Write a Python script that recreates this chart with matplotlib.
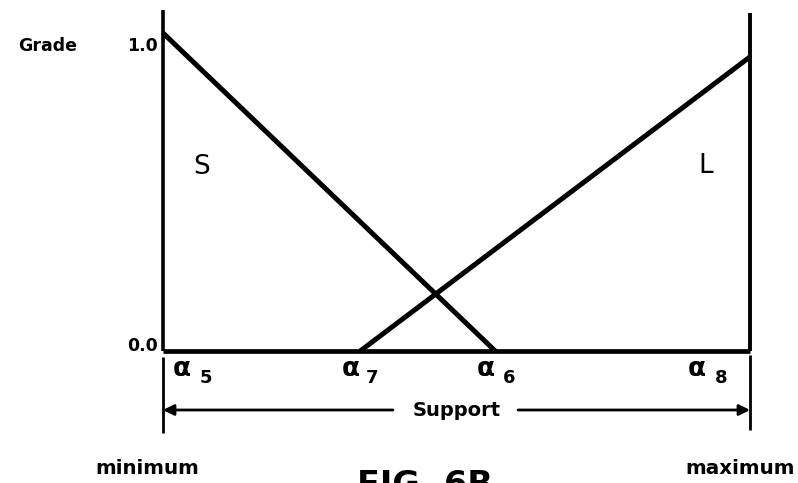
import matplotlib.pyplot as plt

# positions on the support (0 = minimum, 1 = maximum)
alpha5 = 0.0
alpha7 = 0.336
alpha6 = 0.566
alpha8 = 1.0

# membership functions S and L
S_x = [alpha5, alpha6]
S_y = [1.0, 0.0]
L_x = [alpha7, alpha8]
L_y = [0.0, 0.925]

grade_ticks = [0.0, 1.0]
grade_labels = ['0.0', '1.0']
alpha_pos = [alpha5, alpha7, alpha6, alpha8]
alpha_subs = ['5', '7', '6', '8']

W, H = 798, 483
fig = plt.figure(figsize=(W / 100, H / 100), dpi=100)
ax = fig.add_axes([163 / W, (H - 351) / H, 587 / W, 318 / H])
ax.set_xlim(0, 1)
ax.set_ylim(0, 1)
ax.axis('off')


def px(x):
    return (x - 163) / 587


def py(y):
    return (351 - y) / 318


k = dict(color='black', clip_on=False, solid_capstyle='butt')

# axes frame
ax.plot([0, 0], [py(10), 0], lw=2.6, **k)
ax.plot([1, 1], [py(13), 0], lw=2.8, **k)
ax.plot([0, 1], [0, 0], lw=3.4, **k)

# membership lines
ax.plot(S_x, S_y, lw=3.6, **k)
ax.plot(L_x, L_y, lw=3.6, **k)

# extension lines for support dimension
ax.plot([0, 0], [py(357), py(433)], lw=2.0, **k)
ax.plot([1, 1], [py(355), py(430)], lw=2.0, **k)

ya = py(410)
ax.annotate('', xy=(0, ya), xytext=(px(393), ya),
            arrowprops=dict(arrowstyle='-|>', lw=2.0, color='black',
                            mutation_scale=16, shrinkA=0, shrinkB=0),
            annotation_clip=False)
ax.annotate('', xy=(1, ya), xytext=(px(518), ya),
            arrowprops=dict(arrowstyle='-|>', lw=2.0, color='black',
                            mutation_scale=16, shrinkA=0, shrinkB=0),
            annotation_clip=False)
ax.text(px(457), ya, 'Support', ha='center', va='center', fontsize=14,
        fontweight='bold')

# grade labels
ax.text(px(18), py(46), 'Grade', ha='left', va='center', fontsize=12.5,
        fontweight='bold')
for t, lab in zip(grade_ticks, grade_labels):
    ax.text(px(158), t + (py(46) - 1.0 if t == 1.0 else py(346)), lab,
            ha='right', va='center', fontsize=12.5, fontweight='bold')

# set names
ax.text(px(202), py(167), 'S', ha='center', va='center', fontsize=19)
ax.text(px(706), py(166), 'L', ha='center', va='center', fontsize=19)

# alpha labels: greek letter plus lowered index
a_left = [173, 342, 477, 688]
s_left = [200, 366, 503, 715]
for a, sub, al, sl in zip(alpha_pos, alpha_subs, a_left, s_left):
    ax.text(px(al), py(376), 'α', ha='left', va='baseline', fontsize=19,
            fontweight='bold')
    ax.text(px(sl), py(383), sub, ha='left', va='baseline', fontsize=13,
            fontweight='bold')

ax.text(px(95), py(468), 'minimum', ha='left', va='center', fontsize=14.3,
        fontweight='bold')
ax.text(px(685), py(468), 'maximum', ha='left', va='center', fontsize=14.3,
        fontweight='bold')

ax.text(px(357), py(495), 'FIG. 6B', ha='left', va='baseline', fontsize=24,
        fontweight='bold')

fig.savefig('out.png', dpi=100)
